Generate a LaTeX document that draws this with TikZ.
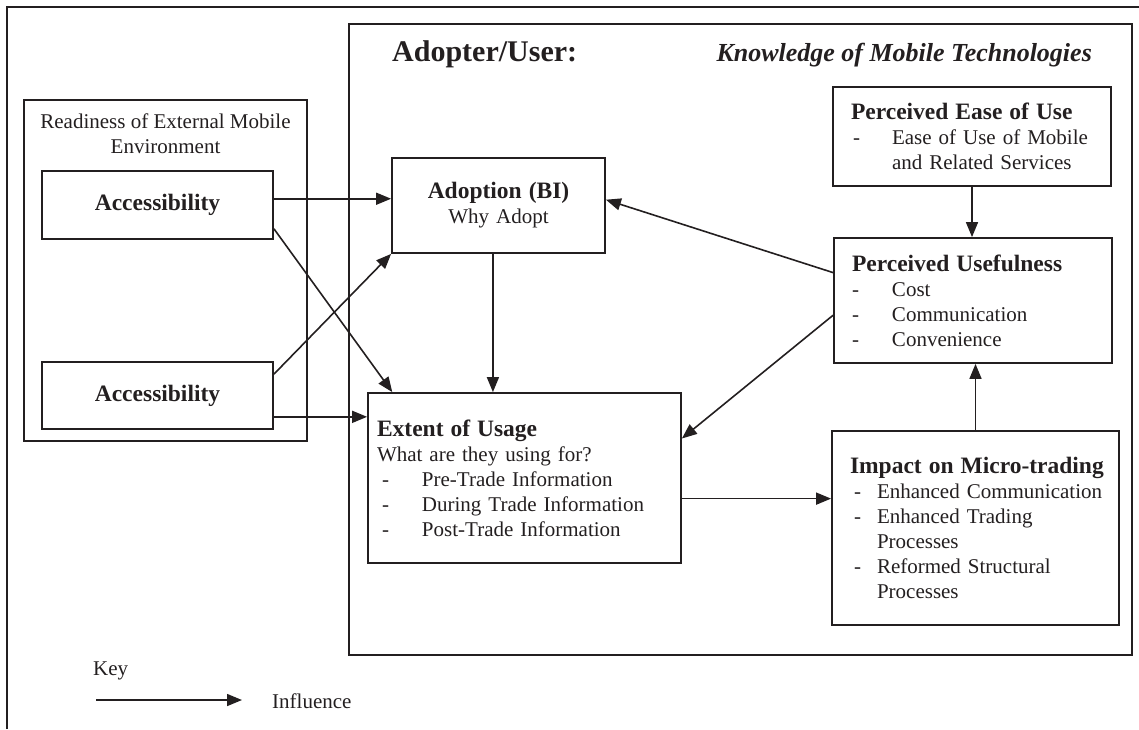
\documentclass[tikz,border=0pt]{standalone}
\usepackage{fontspec}
\setmainfont{Liberation Serif}
\usetikzlibrary{arrows.meta,calc}
\definecolor{ink}{HTML}{231F20}
\newcommand\hfont{\fontsize{23.5}{25}\selectfont\bfseries}
\newcommand\bfont{\fontsize{21}{25}\selectfont}
\begin{document}
\begin{tikzpicture}[x=1pt,y=-1pt,
  box/.style={draw=ink, line width=1.8pt, inner sep=0pt, text=ink},
  txt/.style={inner sep=0pt, text=ink, font=\bfont},
  arr/.style={draw=ink, line width=1.6pt, -{Triangle[length=15pt,width=12pt]}}]
\useasboundingbox (0,0) rectangle (1139,729);
% outer frame (open on right and bottom)
\coordinate (fbl) at (7,729);
\coordinate (ftl) at (7,7);
\coordinate (ftr) at (1139,7);
\draw[ink, line width=2.4pt] (fbl) -- (ftl) -- (ftr);

% readiness group
\node[box, minimum width=283pt, minimum height=341pt] (readiness) at (165.5,270.5) {};
\node[txt, anchor=north, align=center] (readtitle) at (165.5,113.5) {Readiness of External Mobile\\Environment};
\node[box, minimum width=231pt, minimum height=68pt, font=\hfont] (acc1) at (157.5,205) {Accessibility};
\node[box, minimum width=231pt, minimum height=67pt, font=\hfont] (acc2) at (157.5,395.5) {Accessibility};

% adopter group
\node[box, minimum width=783pt, minimum height=631pt] (adopter) at (740.5,339.5) {};
\node[txt, anchor=base west, font=\fontsize{30}{34}\selectfont\bfseries] (adopterlbl) at (392,61) {Adopter/User:};
\node[txt, anchor=base east, font=\fontsize{26}{30}\selectfont\bfseries\itshape] (knowlbl) at (1092,61) {Knowledge of Mobile Technologies};

\node[box, minimum width=213pt, minimum height=95pt, text width=213pt, align=center, font=\bfont] (adoption) at (498.5,205.5)
  {{\hfont Adoption (BI)}\\Why Adopt};

\node[box, minimum width=313pt, minimum height=170pt, inner xsep=9pt, text width=295pt, align=left, font=\bfont] (extent) at (524.5,478)
  {\noindent{\hfont Extent of Usage}\\
   What are they using for?\\
   \hspace*{5pt}\makebox[40pt][l]{-}Pre-Trade Information\\
   \hspace*{5pt}\makebox[40pt][l]{-}During Trade Information\\
   \hspace*{5pt}\makebox[40pt][l]{-}Post-Trade Information};

\node[box, minimum width=278pt, minimum height=99pt, inner xsep=18pt, text width=242pt, align=left, font=\bfont] (ease) at (972,136.5)
  {\noindent{\hfont Perceived Ease of Use}\\
   \makebox[41pt][l]{\hspace{2pt}-}Ease of Use of Mobile\\
   \hspace*{41pt}and Related Services};

\node[box, minimum width=278pt, minimum height=125pt, inner xsep=18pt, text width=242pt, align=left, font=\bfont] (useful) at (973,300.5)
  {\noindent{\hfont Perceived Usefulness}\\
   \makebox[40pt][l]{-}Cost\\
   \makebox[40pt][l]{-}Communication\\
   \makebox[40pt][l]{-}Convenience};

\node[box, minimum width=287pt, minimum height=194pt, inner xsep=18pt, text width=251pt, align=left, font=\bfont] (impact) at (975.5,528)
  {\noindent\mbox{\hfont Impact on Micro-trading}\\
   \hspace*{4pt}\makebox[23pt][l]{-}\mbox{Enhanced Communication}\\
   \hspace*{4pt}\makebox[23pt][l]{-}Enhanced Trading\\
   \hspace*{27pt}Processes\\
   \hspace*{4pt}\makebox[23pt][l]{-}Reformed Structural\\
   \hspace*{27pt}Processes};

% connectors
\coordinate (a1s) at ($(acc1.north east)!0.41!(acc1.south east)$);
\draw[arr] (a1s) -- (adoption.west |- a1s);
\coordinate (a1d) at ($(acc1.north east)!0.84!(acc1.south east)$);
\coordinate (extl) at ($(extent.north west)!0.08!(extent.north east)$);
\draw[arr] (a1d) -- (extl);
\coordinate (a2u) at ($(acc2.north east)!0.19!(acc2.south east)$);
\draw[arr] (a2u) -- (adoption.south west);
\coordinate (a2s) at ($(acc2.north east)!0.81!(acc2.south east)$);
\draw[arr] (a2s) -- (extent.west |- a2s);
\coordinate (ados) at ($(adoption.south west)!0.474!(adoption.south east)$);
\draw[arr] (ados) -- (extent.north -| ados);
\coordinate (u1) at ($(useful.north west)!0.28!(useful.south west)$);
\coordinate (adoe) at ($(adoption.north east)!0.44!(adoption.south east)$);
\draw[arr] (u1) -- (adoe);
\coordinate (u2) at ($(useful.north west)!0.616!(useful.south west)$);
\coordinate (exte) at ($(extent.north east)!0.27!(extent.south east)$);
\draw[arr] (u2) -- (exte);
\draw[arr] (ease.south) -- (useful.north -| ease.south);
\draw[arr] (impact.north) -- (useful.south -| impact.north);
\coordinate (exti) at ($(extent.north east)!0.62!(extent.south east)$);
\draw[arr] (exti) -- (impact.west |- exti);

% key
\node[txt, anchor=base west] (keylbl) at (93,675) {Key};
\coordinate (keyA) at (96,700);
\coordinate (keyB) at (242,700);
\draw[arr] (keyA) -- (keyB);
\node[txt, anchor=base west] (inflbl) at (272,708) {Influence};
\end{tikzpicture}
\end{document}
